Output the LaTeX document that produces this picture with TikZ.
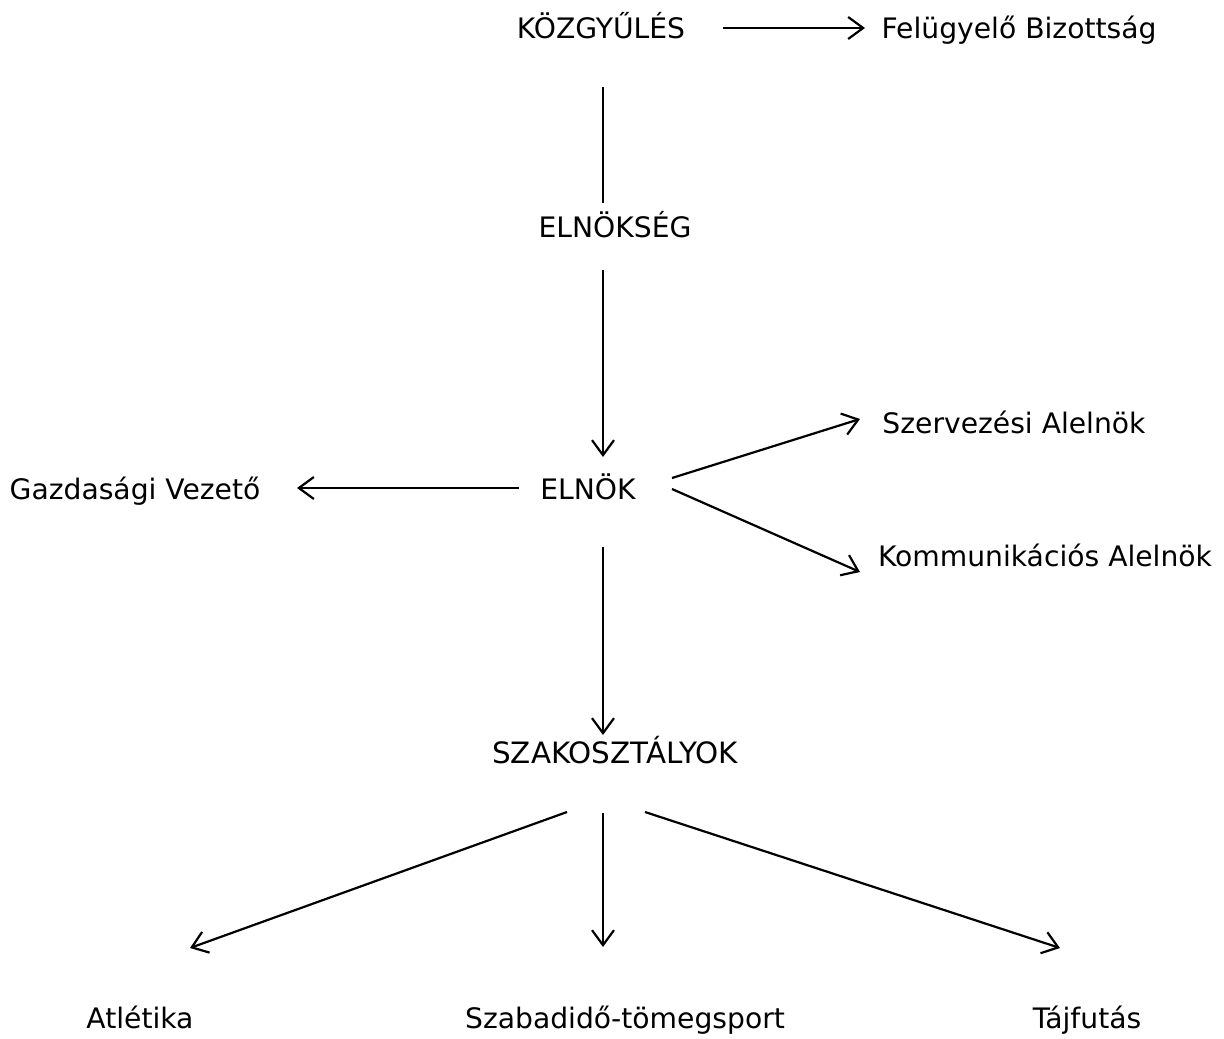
\documentclass[tikz,border=0pt]{standalone}
\usepackage{fontspec}
\setmainfont{DejaVu Sans}
\usetikzlibrary{arrows.meta}
\begin{document}
\begin{tikzpicture}[x=1pt,y=-1pt,
  lbl/.style={anchor=base,inner sep=0pt,font=\fontsize{28.2}{33}\selectfont},
  conn/.style={line width=2.2pt},
  arr/.style={conn,-{Straight Barb[length=15pt,width=22pt,line width=2.2pt]}}]
\useasboundingbox (0,0) rectangle (1224,1039);
\node[lbl] (kgy) at (601,38) {KÖZGYŰLÉS};
\node[lbl] (fb) at (1019,38) {Felügyelő Bizottság};
\node[lbl] (elnsg) at (615,237) {ELNÖKSÉG};
\node[lbl] (eln) at (588,499) {ELNÖK};
\node[lbl] (gv) at (135,499) {Gazdasági Vezető};
\node[lbl] (sza) at (1014,433) {Szervezési Alelnök};
\node[lbl] (ka) at (1045,566) {Kommunikációs Alelnök};
\node[lbl,font=\fontsize{29.4}{34}\selectfont] (szak) at (615,763) {SZAKOSZTÁLYOK};
\node[lbl] (atl) at (140,1028) {Atlétika};
\node[lbl] (szab) at (625,1028) {Szabadidő-tömegsport};
\node[lbl] (taj) at (1087,1028) {Tájfutás};
\coordinate (a1s) at (723,28); \coordinate (a1e) at (865,28);
\coordinate (a2s) at (603,87); \coordinate (a2e) at (603,203);
\coordinate (a3s) at (603,270); \coordinate (a3e) at (603,457);
\coordinate (a4s) at (519,488); \coordinate (a4e) at (297,488);
\coordinate (a5s) at (672,478); \coordinate (a5e) at (860,419);
\coordinate (a6s) at (672,489); \coordinate (a6e) at (860,572);
\coordinate (a7s) at (603,547); \coordinate (a7e) at (603,735);
\coordinate (a8s) at (567,812); \coordinate (a8e) at (190,948);
\coordinate (a9s) at (603,813); \coordinate (a9e) at (603,947);
\coordinate (a10s) at (645,812); \coordinate (a10e) at (1060,948);
\draw[arr] (a1s) -- (a1e);
\draw[conn] (a2s) -- (a2e);
\draw[arr] (a3s) -- (a3e);
\draw[arr] (a4s) -- (a4e);
\draw[arr] (a5s) -- (a5e);
\draw[arr] (a6s) -- (a6e);
\draw[arr] (a7s) -- (a7e);
\draw[arr] (a8s) -- (a8e);
\draw[arr] (a9s) -- (a9e);
\draw[arr] (a10s) -- (a10e);
\end{tikzpicture}
\end{document}
